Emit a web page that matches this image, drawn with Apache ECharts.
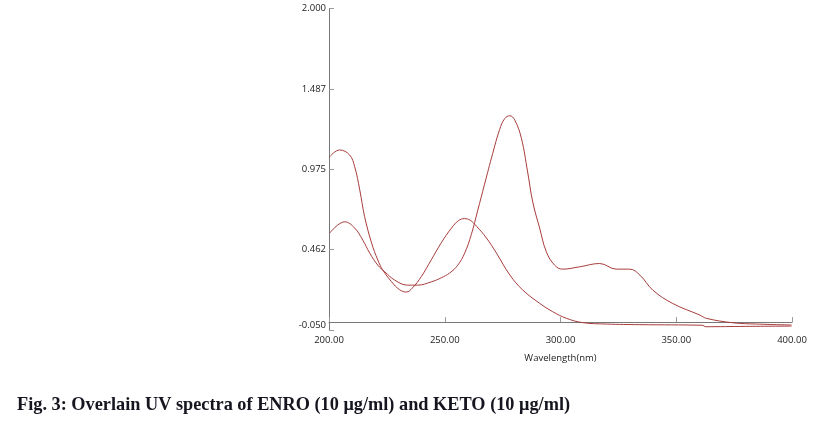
<!DOCTYPE html>
<html>
<head>
<meta charset="utf-8">
<script src="https://cdn.jsdelivr.net/npm/echarts@6/dist/echarts.min.js"></script>
<style>
html,body{margin:0;padding:0;background:#fff;}
#c{width:813px;height:421px;}
</style>
</head>
<body>
<div id="c"></div>
<script>
// Curve with tall peak near 205 nm and peak at 258 nm
var seriesA_nm  = [200.3,204.6,208.9,211.1,213.3,215.4,218.4,221.1,223.2,227.0,230.5,233.4,236.1,239.9,244.2,248.5,252.9,256.0,258.5,261.0,263.7,268.0,272.3,278.1,283.7,291.0,296.6,302.5,309.6,319.9,334.3,361.5,362.5,380.0,399.8];
var seriesA_abs = [1.055,1.098,1.066,0.991,0.842,0.672,0.505,0.396,0.333,0.258,0.207,0.192,0.219,0.291,0.398,0.506,0.600,0.648,0.660,0.650,0.612,0.537,0.441,0.301,0.205,0.120,0.067,0.025,-0.003,-0.012,-0.016,-0.020,-0.029,-0.027,-0.025];
// Curve with small peak near 207 nm and main peak at 278 nm
var seriesB_nm  = [200.3,206.8,211.1,214.6,217.6,221.1,224.1,228.4,234.0,238.3,244.2,248.5,252.1,255.6,258.6,261.5,264.2,267.2,270.7,273.7,275.9,278.1,280.2,283.1,285.8,288.0,291.0,293.9,297.5,300.9,308.3,316.9,324.1,329.9,334.3,339.9,348.5,360.2,363.1,374.5,384.7,399.8];
var seriesB_abs = [0.568,0.640,0.600,0.523,0.440,0.363,0.321,0.268,0.236,0.236,0.257,0.283,0.313,0.363,0.440,0.560,0.710,0.880,1.075,1.228,1.298,1.316,1.290,1.173,0.958,0.767,0.599,0.448,0.363,0.338,0.353,0.374,0.338,0.338,0.300,0.204,0.119,0.045,0.024,-0.004,-0.012,-0.018];
var yTickValues = [-0.05, 0.4625, 0.975, 1.4875, 2.0];
var yTickLabels = ['-0.050', '0.462', '0.975', '1.487', '2.000'];
var xTickValues = [200, 250, 300, 350, 400];
var xTickLabels = ['200.00', '250.00', '300.00', '350.00', '400.00'];
var caption = 'Fig. 3: Overlain UV spectra of ENRO (10 \u03bcg/ml) and KETO (10 \u03bcg/ml)';

function pairs(xs, ys){ return xs.map(function(x,i){ return [x, ys[i]]; }); }

var chart = echarts.init(document.getElementById('c'));
var lineColor = '#a83c3c';
chart.setOption({
  animation: false,
  backgroundColor: '#fff',
  grid: {left: 329, right: 21, top: 8.5, bottom: 91},
  title: {
    text: caption, left: 17, top: 396, padding: 0,
    textStyle: {fontFamily: 'Liberation Serif', fontWeight: 'bold', fontSize: 18.3, color: '#15151f'}
  },
  xAxis: {
    type: 'value', min: 200, max: 400, interval: 50,
    name: 'Wavelength(nm)', nameLocation: 'middle', nameGap: 23,
    nameTextStyle: {fontFamily: 'Open Sans', fontSize: 9.5, color: '#222'},
    axisLine: {lineStyle: {color: '#777', width: 1}},
    axisTick: {inside: true, length: 5, lineStyle: {color: '#999'}},
    axisLabel: {
      margin: 5, fontFamily: 'Open Sans', fontSize: 9.5, color: '#222',
      formatter: function(v){ var i = xTickValues.indexOf(v); return i >= 0 ? xTickLabels[i] : ''; }
    },
    splitLine: {show: false}
  },
  yAxis: {
    type: 'value', min: -0.05, max: 2.0,
    axisLine: {show: true, lineStyle: {color: '#777', width: 1}},
    axisTick: {show: true, inside: true, length: 5, lineStyle: {color: '#999'}, customValues: yTickValues},
    axisLabel: {
      margin: 3, fontFamily: 'Open Sans', fontSize: 9.5, color: '#222',
      customValues: yTickValues,
      formatter: function(v){
        var best = 0;
        for (var i = 0; i < yTickValues.length; i++) if (Math.abs(yTickValues[i]-v) < Math.abs(yTickValues[best]-v)) best = i;
        return best === 0 ? '{lo|' + yTickLabels[best] + '}' : yTickLabels[best];
      },
      rich: {lo: {fontFamily: 'Open Sans', fontSize: 9.5, color: '#222', padding: [0, 0, 10, 0]}}
    },
    splitLine: {show: false}
  },
  series: [
    {type: 'line', data: pairs(seriesA_nm, seriesA_abs), smooth: 0.4, showSymbol: false,
     lineStyle: {color: lineColor, width: 1}, itemStyle: {color: lineColor}},
    {type: 'line', data: pairs(seriesB_nm, seriesB_abs), smooth: 0.4, showSymbol: false,
     lineStyle: {color: lineColor, width: 1}, itemStyle: {color: lineColor}}
  ]
});
</script>
</body>
</html>
